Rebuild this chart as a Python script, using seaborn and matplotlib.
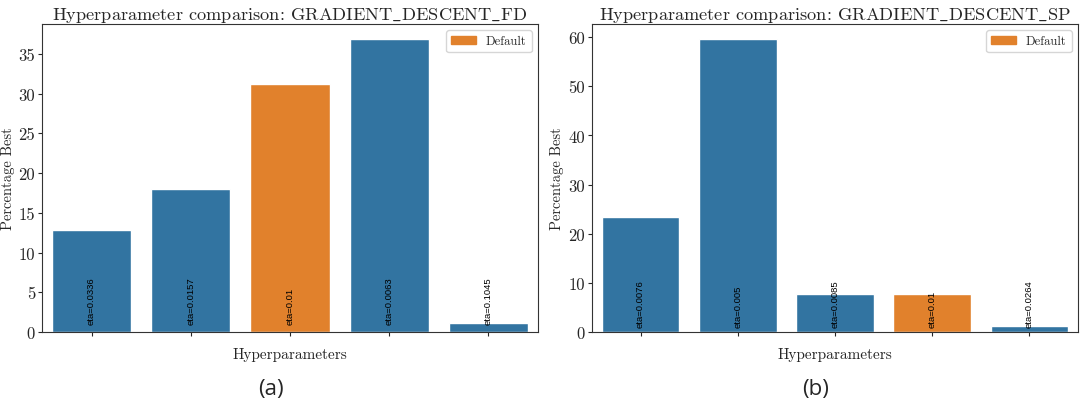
import matplotlib
matplotlib.use("Agg")
import matplotlib.pyplot as plt
import seaborn as sns
from matplotlib.patches import Patch

sns.set_style("ticks")
plt.rcParams['font.family'] = ['cmr10', 'DejaVu Serif']
plt.rcParams['mathtext.fontset'] = 'cm'
plt.rcParams['axes.formatter.use_mathtext'] = False
plt.rcParams['axes.unicode_minus'] = False

# ---- data ----
fd_labels = ["eta=0.0336", "eta=0.0157", "eta=0.01", "eta=0.0063", "eta=0.1045"]
fd_values = [12.8, 18.0, 31.2, 36.9, 1.1]
fd_default = [False, False, True, False, False]

sp_labels = ["eta=0.0076", "eta=0.005", "eta=0.0085", "eta=0.01", "eta=0.0264"]
sp_values = [23.4, 59.7, 7.8, 7.8, 1.3]
sp_default = [False, False, False, True, False]

titles = [r"Hyperparameter comparison: $\mathrm{GRADIENT\_DESCENT\_FD}$",
          r"Hyperparameter comparison: $\mathrm{GRADIENT\_DESCENT\_SP}$"]
captions = ["(a)", "(b)"]

BLUE = "#1f77b4"
ORANGE = "#ff7f0e"

fig = plt.figure(figsize=(10.8, 4.1), dpi=100)
ax1 = fig.add_axes([42/1080, 1-333/410, 496/1080, 308/410])
ax2 = fig.add_axes([592/1080, 1-333/410, 486/1080, 308/410])

for ax, labels, values, default, title, cap, ylx in [
        (ax1, fd_labels, fd_values, fd_default, titles[0], captions[0], -0.054),
        (ax2, sp_labels, sp_values, sp_default, titles[1], captions[1], -0.058)]:
    pal = {l: (ORANGE if d else BLUE) for l, d in zip(labels, default)}
    sns.barplot(x=labels, y=values, hue=labels, palette=pal, legend=False,
                ax=ax, saturation=0.75, width=0.8)
    for i, l in enumerate(labels):
        ax.text(i, 1.0, l, rotation=90, ha='center', va='bottom',
                fontsize=6.8, family=['Liberation Sans Narrow', 'Liberation Sans'],
                color='black')
    ax.set_xticks(range(len(labels)))
    ax.set_xticklabels([""] * len(labels))
    ax.tick_params(axis='x', length=3)
    ax.tick_params(axis='y', labelsize=12, length=3, pad=2)
    for t in ax.get_yticklabels():
        t.set_fontfamily(['cmr10', 'DejaVu Serif'])
    ax.set_xlabel("Hyperparameters", fontsize=11)
    ax.set_ylabel("Percentage Best", fontsize=10.5)
    ax.yaxis.set_label_coords(ylx, 0.5)
    ax.set_title(title, fontsize=13.2, pad=2)
    for s in ax.spines.values():
        s.set_visible(True)
        s.set_color('#333333')
    default_color = sns.desaturate(ORANGE, 0.75)
    ax.legend(handles=[Patch(color=default_color, label="Default")],
              loc='upper right', fontsize=9)
    bb = ax.get_position()
    fig.text(bb.x0 + bb.width / 2 - 0.018, 20/410, cap, ha='center', va='center',
             fontsize=16, family='Open Sans')

fig.savefig("out.png", dpi=100)
